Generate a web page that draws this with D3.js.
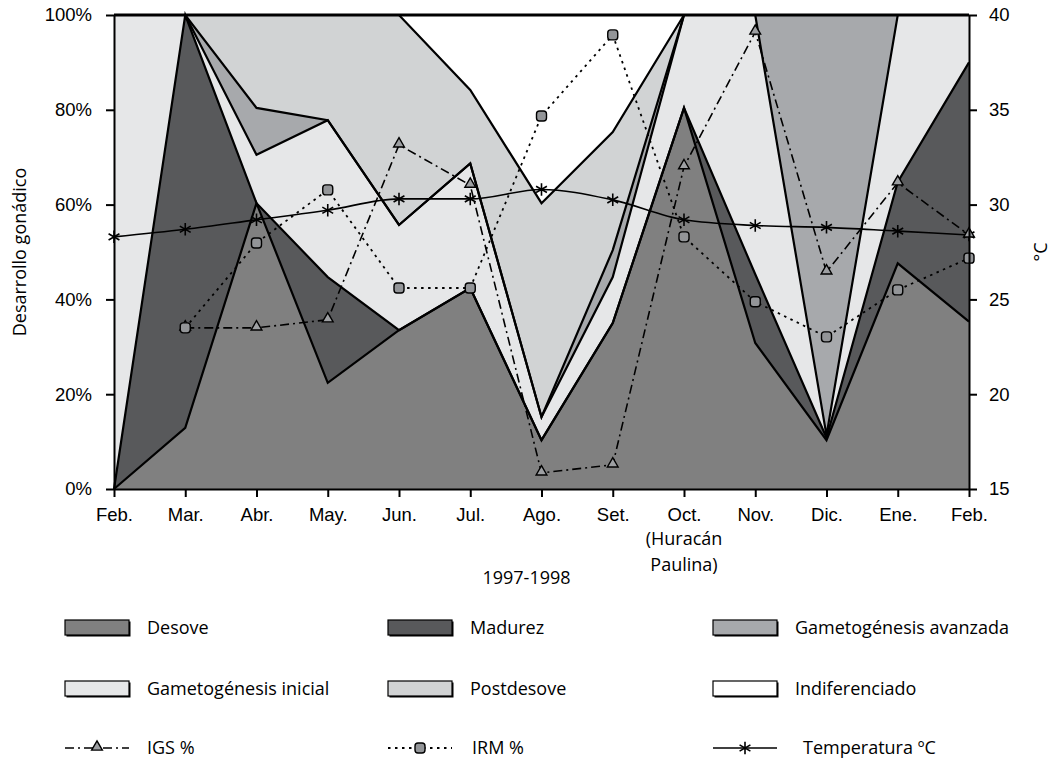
<!DOCTYPE html>
<html>
<head>
<meta charset="utf-8">
<script src="https://cdn.jsdelivr.net/npm/d3@7"></script>
<style>
  body { margin: 0; background: #fff; }
  svg { display: block; font-family: "Open Sans", sans-serif; }
  .axis text { font-size: 18.5px; fill: #000; }
  .axis path, .axis line { stroke: #000; stroke-width: 2; }
</style>
</head>
<body>
<div id="chart"></div>
<script>
var width = 1061;
var height = 769;

// months, Feb 1997 - Feb 1998
var months = ["Feb.", "Mar.", "Abr.", "May.", "Jun.", "Jul.", "Ago.", "Set.", "Oct.", "Nov.", "Dic.", "Ene.", "Feb."];

// gonadal stages, % of individuals
var desove      = [0, 12.9, 60.3, 22.4, 33.5, 42.4, 10.3, 35.0, 80.4, 30.8, 10.3, 47.6, 35.3];
var madurez     = [0, 87.1, 0, 22.3, 0, 0, 0, 0, 0, 14.5, 0.5, 17.2, 54.7];
var gamInicial  = [100, 0, 10.2, 33.1, 22.2, 26.3, 4.9, 9.7, 19.6, 54.7, 0.5, 35.2, 10.0];
var gamAvanzada = [0, 0, 9.9, 0, 0, 0, 0, 5.7, 0, 0, 88.7, 0, 0];
var postdesove  = [0, 0, 19.6, 22.2, 44.3, 15.5, 45.1, 24.9, 0, 0, 0, 0, 0];
var indiferenciado = [0, 0, 0, 0, 0, 15.8, 39.7, 24.7, 0, 0, 0, 0, 0];

// indices
var igs = [null, 34, 34, 35.7, 72.6, 64.1, 3.4, 5.1, 68, 96.4, 45.8, 64.6, 53.6];
var irm = [null, 34, 51.9, 63.1, 42.4, 42.4, 78.7, 95.8, 53.2, 39.5, 32.1, 42, 48.7];
var temperatura = [28.3, 28.7, 29.2, 29.7, 30.3, 30.3, 30.8, 30.25, 29.2, 28.9, 28.8, 28.6, 28.4];

var pctTicks = [0, 20, 40, 60, 80, 100];
var tempTicks = [15, 20, 25, 30, 35, 40];

var stages = [
  { key: "desove", label: "Desove", color: "#808080", values: desove },
  { key: "madurez", label: "Madurez", color: "#58595b", values: madurez },
  { key: "gamInicial", label: "Gametogénesis inicial", color: "#e6e7e8", values: gamInicial },
  { key: "gamAvanzada", label: "Gametogénesis avanzada", color: "#a7a9ac", values: gamAvanzada },
  { key: "postdesove", label: "Postdesove", color: "#d1d3d4", values: postdesove },
  { key: "indif", label: "Indiferenciado", color: "#ffffff", values: indiferenciado }
];

var table = months.map(function (m, i) {
  var row = { i: i };
  stages.forEach(function (s) { row[s.key] = s.values[i]; });
  return row;
});

var plotLeft = 114, plotRight = 969, plotTop = 15, plotBottom = 489;

var x = d3.scaleLinear().domain([0, months.length - 1]).range([plotLeft, plotRight]);
var y = d3.scaleLinear().domain([0, 100]).range([plotBottom, plotTop]);
var yT = d3.scaleLinear().domain([15, 40]).range([plotBottom, plotTop]);

var svg = d3.select("#chart").append("svg")
  .attr("width", width)
  .attr("height", height);

var stack = d3.stack().keys(stages.map(function (s) { return s.key; }));
var series = stack(table);

var area = d3.area()
  .x(function (d) { return x(d.data.i); })
  .y0(function (d) { return y(d[0]); })
  .y1(function (d) { return y(d[1]); });

var topLine = d3.line()
  .x(function (d) { return x(d.data.i); })
  .y(function (d) { return y(d[1]); });

svg.append("g").selectAll("path")
  .data(series).enter().append("path")
  .attr("d", area)
  .attr("fill", function (d, i) { return stages[i].color; });

svg.append("g").selectAll("path")
  .data(series).enter().append("path")
  .attr("d", topLine)
  .attr("fill", "none")
  .attr("stroke", "#000")
  .attr("stroke-width", 2.2)
  .attr("stroke-linejoin", "miter");

// top frame line
svg.append("line")
  .attr("x1", plotLeft).attr("x2", plotRight)
  .attr("y1", y(100)).attr("y2", y(100))
  .attr("stroke", "#000").attr("stroke-width", 3);

// lines
var lineIGS = d3.line()
  .defined(function (d) { return d != null; })
  .x(function (d, i) { return x(i); })
  .y(function (d) { return y(d); });

var lineIRM = d3.line()
  .defined(function (d) { return d != null; })
  .x(function (d, i) { return x(i); })
  .y(function (d) { return y(d); });

var lineT = d3.line()
  .x(function (d, i) { return x(i); })
  .y(function (d) { return yT(d); })
  .curve(d3.curveMonotoneX);

svg.append("path").attr("d", lineT(temperatura))
  .attr("fill", "none").attr("stroke", "#000").attr("stroke-width", 1.6);

svg.append("path").attr("d", lineIGS(igs))
  .attr("fill", "none").attr("stroke", "#000").attr("stroke-width", 1.6)
  .attr("stroke-dasharray", "9,4,2,4");

svg.append("path").attr("d", lineIRM(irm))
  .attr("fill", "none").attr("stroke", "#000").attr("stroke-width", 1.8)
  .attr("stroke-dasharray", "2.5,4.5");

var asterisk = d3.symbol().type(d3.symbolAsterisk).size(110);
var triangle = d3.symbol().type(d3.symbolTriangle).size(50);

svg.append("g").selectAll("path")
  .data(temperatura).enter().append("path")
  .attr("d", asterisk)
  .attr("transform", function (d, i) { return "translate(" + x(i) + "," + yT(d) + ")"; })
  .attr("fill", "none").attr("stroke", "#000").attr("stroke-width", 1.6);

svg.append("g").selectAll("path")
  .data(igs.map(function (v, i) { return { v: v, i: i }; }).filter(function (d) { return d.v != null; }))
  .enter().append("path")
  .attr("d", triangle)
  .attr("transform", function (d) { return "translate(" + x(d.i) + "," + (y(d.v) - 1) + ")"; })
  .attr("fill", "#9d9fa2").attr("stroke", "#000").attr("stroke-width", 1.4);

svg.append("g").selectAll("rect")
  .data(irm.map(function (v, i) { return { v: v, i: i }; }).filter(function (d) { return d.v != null; }))
  .enter().append("rect")
  .attr("x", function (d) { return x(d.i) - 5; })
  .attr("y", function (d) { return y(d.v) - 5; })
  .attr("width", 10).attr("height", 10).attr("rx", 3)
  .attr("fill", "#939598").attr("stroke", "#000").attr("stroke-width", 1.4);

// axes
svg.append("g").attr("class", "axis")
  .attr("transform", "translate(" + plotLeft + ",0)")
  .call(d3.axisLeft(y).tickValues(pctTicks).tickFormat(function (d) { return d + "%"; })
    .tickSize(8).tickSizeOuter(0).tickPadding(14));

svg.append("g").attr("class", "axis")
  .attr("transform", "translate(" + plotRight + ",0)")
  .call(d3.axisRight(yT).tickValues(tempTicks).tickSize(8).tickSizeOuter(0).tickPadding(12));

svg.append("g").attr("class", "axis")
  .attr("transform", "translate(0," + plotBottom + ")")
  .call(d3.axisBottom(x).tickValues(d3.range(months.length))
    .tickFormat(function (i) { return months[i]; })
    .tickSize(8).tickSizeOuter(0).tickPadding(11));

svg.append("text").attr("x", x(8)).attr("y", 545).attr("text-anchor", "middle")
  .attr("font-size", "18px").text("(Huracán");
svg.append("text").attr("x", x(8)).attr("y", 571).attr("text-anchor", "middle")
  .attr("font-size", "18px").text("Paulina)");

svg.append("text").attr("x", (plotLeft + plotRight) / 2 - 15).attr("y", 584).attr("text-anchor", "middle")
  .attr("font-size", "18px").text("1997-1998");

svg.append("text")
  .attr("transform", "translate(26,252) rotate(-90)")
  .attr("text-anchor", "middle").attr("font-size", "18px")
  .text("Desarrollo gonádico");

svg.append("text")
  .attr("transform", "translate(1047,252) rotate(-90)")
  .attr("text-anchor", "middle").attr("font-size", "18px")
  .text("°C");

// legend
var colX = [65, 388, 713];
var rowY = [628, 689, 748];
var legendOrder = ["desove", "madurez", "gamAvanzada", "gamInicial", "postdesove", "indif"];

legendOrder.forEach(function (k, j) {
  var s = stages.filter(function (d) { return d.key === k; })[0];
  var cx = colX[j % 3], cy = rowY[Math.floor(j / 3)];
  var g = svg.append("g");
  g.append("rect").attr("x", cx + 1.5).attr("y", cy - 6.5).attr("width", 64).attr("height", 15)
    .attr("fill", "#000");
  g.append("rect").attr("x", cx).attr("y", cy - 8).attr("width", 64).attr("height", 15)
    .attr("fill", s.color).attr("stroke", "#000").attr("stroke-width", 1.2);
  g.append("text").attr("x", cx + 82).attr("y", cy + 6).attr("font-size", "18px").text(s.label);
});

// legend row of lines
var ly = rowY[2];
var lg1 = svg.append("g");
lg1.append("line").attr("x1", colX[0]).attr("x2", colX[0] + 64).attr("y1", ly).attr("y2", ly)
  .attr("stroke", "#000").attr("stroke-width", 1.6).attr("stroke-dasharray", "9,4,2,4");
lg1.append("path").attr("d", triangle).attr("transform", "translate(" + (colX[0] + 32) + "," + (ly - 1) + ")")
  .attr("fill", "#9d9fa2").attr("stroke", "#000").attr("stroke-width", 1.4);
lg1.append("text").attr("x", colX[0] + 82).attr("y", ly + 6).attr("font-size", "18px").text("IGS %");

var lg2 = svg.append("g");
lg2.append("line").attr("x1", colX[1]).attr("x2", colX[1] + 64).attr("y1", ly).attr("y2", ly)
  .attr("stroke", "#000").attr("stroke-width", 1.8).attr("stroke-dasharray", "2.5,4.5");
lg2.append("rect").attr("x", colX[1] + 27).attr("y", ly - 5).attr("width", 10).attr("height", 10).attr("rx", 3)
  .attr("fill", "#939598").attr("stroke", "#000").attr("stroke-width", 1.4);
lg2.append("text").attr("x", colX[1] + 84).attr("y", ly + 6).attr("font-size", "18px").text("IRM %");

var lg3 = svg.append("g");
lg3.append("line").attr("x1", colX[2]).attr("x2", colX[2] + 64).attr("y1", ly).attr("y2", ly)
  .attr("stroke", "#000").attr("stroke-width", 1.6);
lg3.append("path").attr("d", asterisk).attr("transform", "translate(" + (colX[2] + 32) + "," + ly + ")")
  .attr("fill", "none").attr("stroke", "#000").attr("stroke-width", 1.6);
lg3.append("text").attr("x", colX[2] + 90).attr("y", ly + 6).attr("font-size", "18px").text("Temperatura ºC");
</script>
</body>
</html>
